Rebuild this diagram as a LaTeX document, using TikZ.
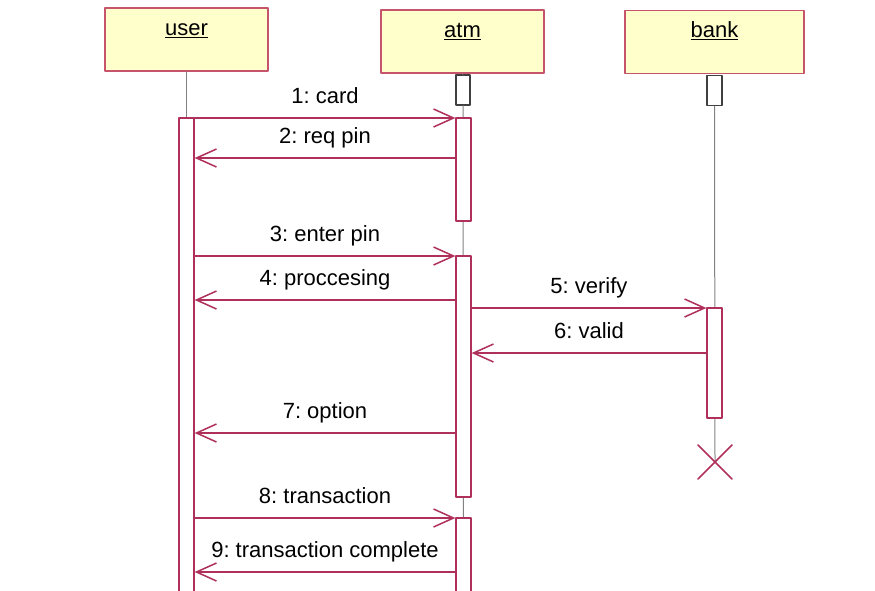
\documentclass[tikz,border=0pt]{standalone}
\usepackage{fontspec}
\setmainfont{Liberation Sans}
\usetikzlibrary{arrows.meta,positioning}
\definecolor{msgred}{RGB}{176,48,92}
\definecolor{headfill}{RGB}{255,255,204}
\definecolor{headline}{RGB}{198,84,108}
\definecolor{lifegray}{RGB}{130,130,130}
\frenchspacing

\begin{document}
\begin{tikzpicture}[x=1pt, y=-1pt, line cap=round, line join=round,
	font=\fontsize{22}{26}\selectfont,
	head/.style={draw=headline, fill=headfill, line width=1.6, minimum width=163, minimum height=63, inner sep=0},
	headname/.style={at={(#1.north)}, anchor=base, yshift=-28pt, inner sep=0},
	bar/.style={draw=msgred, fill=white, line width=1.3, minimum width=15, inner sep=0},
	stub/.style={draw=black!75, fill=white, line width=1.3, minimum width=14, minimum height=30, inner sep=0},
	life/.style={draw=lifegray, line width=1},
	msg/.style={draw=msgred, line width=1.5, -{Straight Barb[length=20pt,width=18pt,line width=1.5]}},
	lbl/.style={midway, anchor=base, yshift=15pt, inner sep=0}]
	\useasboundingbox (0,0) rectangle (875,590);

	% objects
	\node[head] (user) at (186.5,39.5) {};
	\node[headname=user] {\underline{user}};
	\node[head] (atm) at (462.5,41.5) {};
	\node[headname=atm] {\underline{atm}};
	\node[head, minimum width=179] (bank) at (714.5,42) {};
	\node[headname=bank] {\underline{bank}};

	% lifelines
	\node[stub] (astub) at (463,90) {};
	\node[stub, minimum width=15] (bstub) at (714.5,90.5) {};
	\coordinate (ubot) at (186.5,600);
	\coordinate (abot) at (463.5,600);
	\coordinate (bend) at (715,462);
	\draw[life] (user.south) -- (ubot);
	\draw[life] (atm.south) -- (astub.north) (astub.south) -- (abot);
	\draw[life] (bstub.south) -- (bend);

	% activations
	\node[bar, minimum height=490] (ubar) at (186.5,363) {};
	\node[bar, minimum height=103] (abar1) at (463.5,169.5) {};
	\node[bar, minimum height=241] (abar2) at (463.5,376.5) {};
	\node[bar, minimum height=90] (abar3) at (463.5,563) {};
	\node[bar, minimum height=110] (bbar) at (714.5,363) {};
	\draw[msgred, line width=1.6] ([shift={(-17,-17)}]bend) -- ([shift={(17,17)}]bend)
		([shift={(-17,17)}]bend) -- ([shift={(17,-17)}]bend);

	% messages
	\coordinate (y1) at (0,118);
	\coordinate (y2) at (0,158);
	\coordinate (y3) at (0,256);
	\coordinate (y4) at (0,300);
	\coordinate (y5) at (0,308);
	\coordinate (y6) at (0,353);
	\coordinate (y7) at (0,433);
	\coordinate (y8) at (0,518);
	\coordinate (y9) at (0,572);
	\draw[msg] (ubar.east |- y1) -- (abar1.west |- y1) node[lbl] {1: card};
	\draw[msg] (abar1.west |- y2) -- (ubar.east |- y2) node[lbl] {2: req pin};
	\draw[msg] (ubar.east |- y3) -- (abar2.west |- y3) node[lbl] {3: enter pin};
	\draw[msg] (abar2.west |- y4) -- (ubar.east |- y4) node[lbl] {4: proccesing};
	\draw[msg] (abar2.east |- y5) -- (bbar.west |- y5) node[lbl] {5: verify};
	\draw[msg] (bbar.west |- y6) -- (abar2.east |- y6) node[lbl] {6: valid};
	\draw[msg] (abar2.west |- y7) -- (ubar.east |- y7) node[lbl] {7: option};
	\draw[msg] (ubar.east |- y8) -- (abar3.west |- y8) node[lbl] {8: transaction};
	\draw[msg] (abar3.west |- y9) -- (ubar.east |- y9) node[lbl] {9: transaction complete};
\end{tikzpicture}
\end{document}
